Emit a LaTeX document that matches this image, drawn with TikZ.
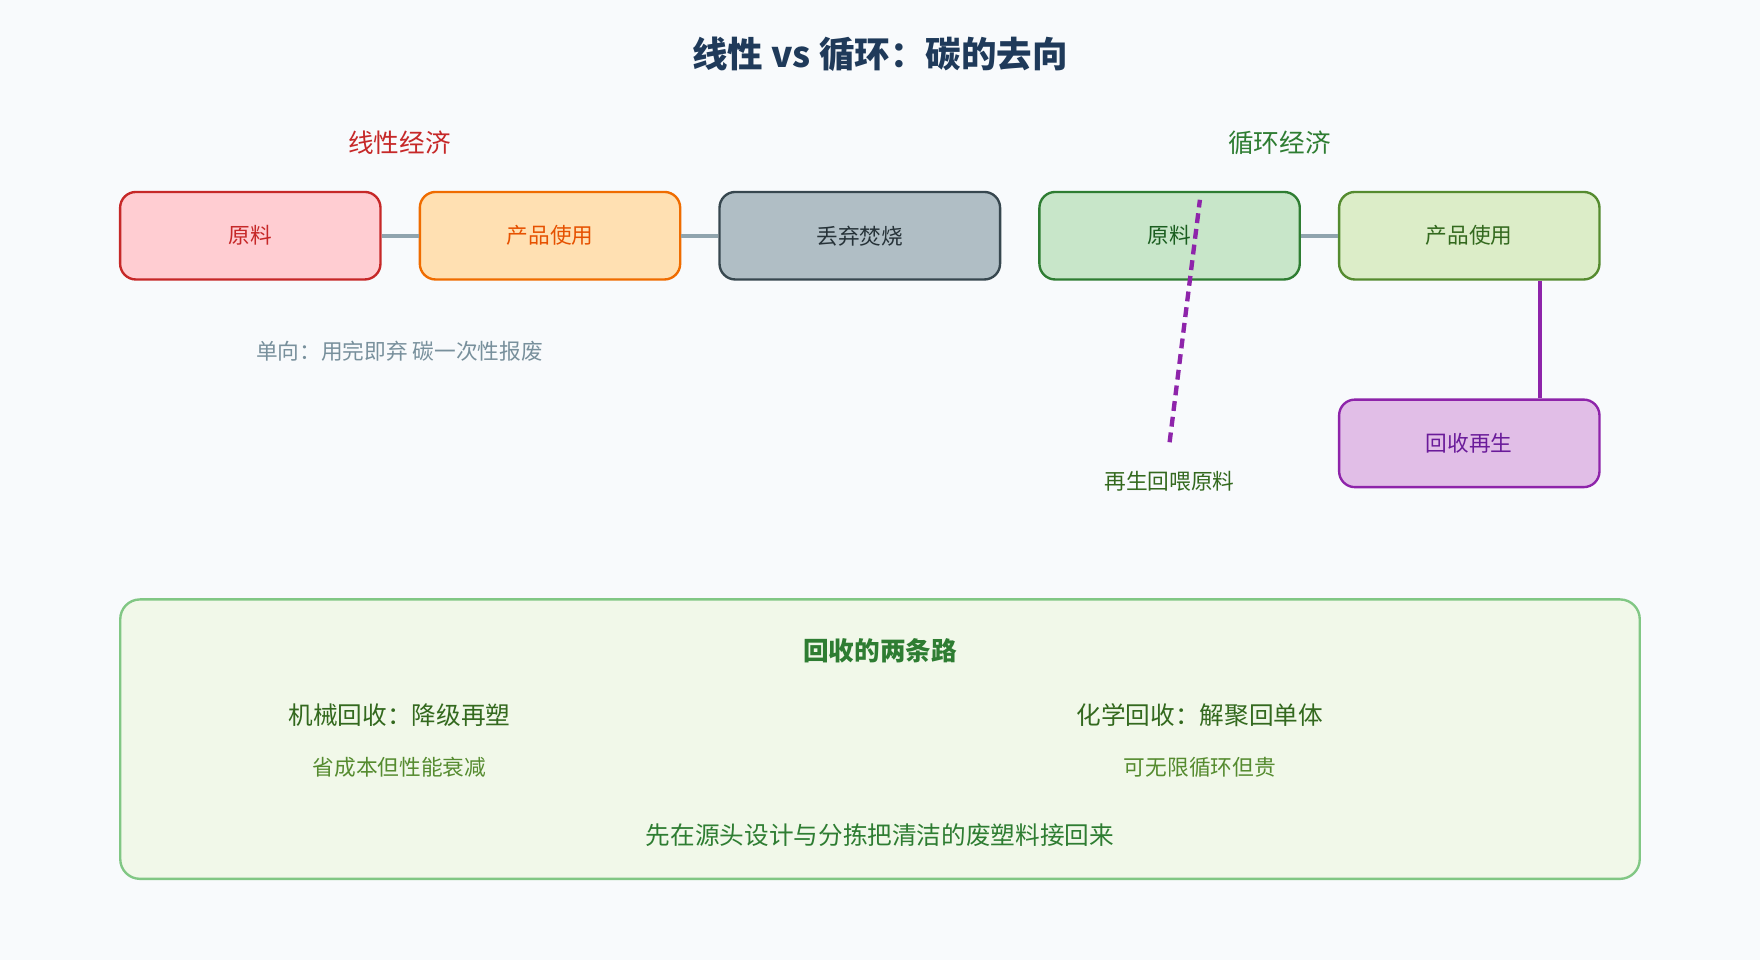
\documentclass[tikz,border=0pt]{standalone}
\usepackage{fontspec}
\setmainfont{Noto Sans CJK SC}
\begin{document}
\begin{tikzpicture}[x=0.02cm,y=-0.02cm,
  box/.style={rounded corners=8pt,line width=1.2pt,minimum width=4.64cm,minimum height=1.56cm,font=\fontsize{11}{13}\selectfont},
  link/.style={draw=gray!60!blue!40,line width=2pt,color={rgb,255:red,144;green,164;blue,174}},
  txt/.style={font=\fontsize{11}{13}\selectfont}]
\definecolor{bg}{HTML}{F8FAFC}
\fill[bg] (0,0) rectangle (1568,855);
\useasboundingbox (0,0) rectangle (1568,855);
\node[font=\bfseries\fontsize{18}{22}\selectfont,text=black!20!blue!40!black,color={rgb,255:red,31;green,58;blue,90}] (title) at (784,48) {线性 vs 循环：碳的去向};
\node[font=\fontsize{13}{15}\selectfont,text={rgb,255:red,198;green,40;blue,40}] (lt) at (356,127) {线性经济};
\node[font=\fontsize{13}{15}\selectfont,text={rgb,255:red,46;green,125;blue,50}] (ct) at (1140,127) {循环经济};
\node[box,fill={rgb,255:red,255;green,205;blue,210},draw={rgb,255:red,198;green,40;blue,40},text={rgb,255:red,198;green,40;blue,40}] (a1) at (223,210) {原料};
\node[box,fill={rgb,255:red,255;green,224;blue,178},draw={rgb,255:red,239;green,108;blue,0},text={rgb,255:red,230;green,81;blue,0}] (a2) at (490,210) {产品使用};
\node[box,minimum width=5cm,fill={rgb,255:red,176;green,190;blue,197},draw={rgb,255:red,55;green,71;blue,79},text={rgb,255:red,38;green,50;blue,56}] (a3) at (766,210) {丢弃焚烧};
\draw[link] (a1.east) -- (a2.west);
\draw[link] (a2.east) -- (a3.west);
\node[txt,text={rgb,255:red,120;green,144;blue,156}] (note) at (356,313) {单向：用完即弃 碳一次性报废};
\node[box,fill={rgb,255:red,200;green,230;blue,201},draw={rgb,255:red,46;green,125;blue,50},text={rgb,255:red,27;green,94;blue,32}] (c1) at (1042,210) {原料};
\node[box,fill={rgb,255:red,220;green,237;blue,200},draw={rgb,255:red,85;green,139;blue,47},text={rgb,255:red,51;green,105;blue,30}] (c2) at (1309,210) {产品使用};
\node[box,fill={rgb,255:red,225;green,190;blue,231},draw={rgb,255:red,142;green,36;blue,170},text={rgb,255:red,106;green,27;blue,154}] (c3) at (1309,395) {回收再生};
\draw[link] (c1.east) -- (c2.west);
\draw[line width=2pt,color={rgb,255:red,142;green,36;blue,170}] (c2.south -| 1372,0) -- (c3.north -| 1372,0);
\coordinate (d1) at (1042,394);
\coordinate (d2) at (1069,178);
\draw[line width=2.2pt,dash pattern=on 5pt off 3pt,color={rgb,255:red,142;green,36;blue,170}] (d1) -- (d2);
\node[txt,text={rgb,255:red,51;green,105;blue,30}] (dl) at (1042,429) {再生回喂原料};
\node[draw={rgb,255:red,129;green,199;blue,132},fill={rgb,255:red,241;green,248;blue,233},rounded corners=10pt,line width=1.2pt,minimum width=27.08cm,minimum height=4.98cm] (panel) at (784,658.5) {};
\node[font=\bfseries\fontsize{13}{15}\selectfont,text={rgb,255:red,46;green,125;blue,50}] (pt) at (784,580) {回收的两条路};
\node[font=\fontsize{12.5}{15}\selectfont,text={rgb,255:red,51;green,105;blue,30}] (m1) at (356,637) {机械回收：降级再塑};
\node[font=\fontsize{12.5}{15}\selectfont,text={rgb,255:red,51;green,105;blue,30}] (m2) at (1069,637) {化学回收：解聚回单体};
\node[font=\fontsize{11}{13}\selectfont,text={rgb,255:red,85;green,139;blue,47}] (s1) at (356,684) {省成本但性能衰减};
\node[font=\fontsize{11}{13}\selectfont,text={rgb,255:red,85;green,139;blue,47}] (s2) at (1069,684) {可无限循环但贵};
\node[font=\fontsize{12.5}{15}\selectfont,text={rgb,255:red,46;green,125;blue,50}] (foot) at (784,744) {先在源头设计与分拣把清洁的废塑料接回来};
\end{tikzpicture}
\end{document}
